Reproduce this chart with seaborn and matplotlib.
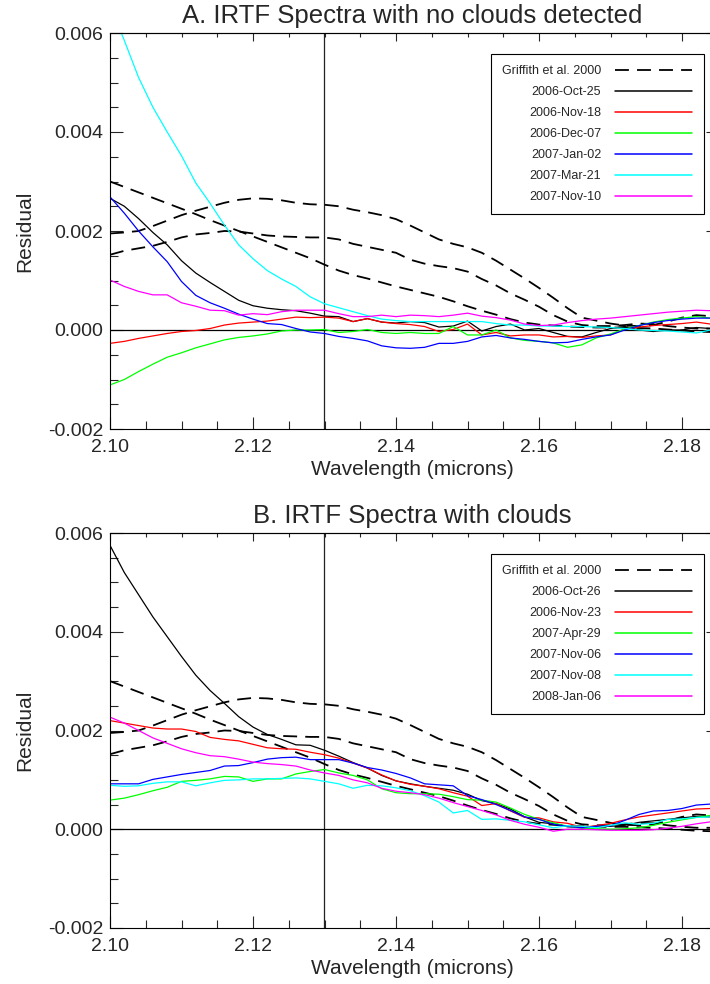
import matplotlib
matplotlib.use('Agg')
import matplotlib.pyplot as plt
from matplotlib.ticker import MultipleLocator, FormatStrFormatter
import seaborn as sns
import numpy as np

# wavelength grid (microns) at which the curves were read
wavelength = [2.100, 2.102, 2.104, 2.106, 2.108, 2.110, 2.112, 2.114, 2.116, 2.118,
              2.120, 2.122, 2.124, 2.126, 2.128, 2.130, 2.132, 2.134, 2.136, 2.138,
              2.140, 2.142, 2.144, 2.146, 2.148, 2.150, 2.152, 2.154, 2.156, 2.158,
              2.160, 2.162, 2.164, 2.166, 2.168, 2.170, 2.172, 2.174, 2.176, 2.178,
              2.180, 2.182, 2.184]

# residuals in units of 1e-3
griffith_1 = [3.0, 2.89, 2.78, 2.67, 2.56, 2.45, 2.34, 2.22, 2.11, 2.0,
              1.89, 1.78, 1.67, 1.56, 1.45, 1.32, 1.2, 1.11, 1.04, 0.96,
              0.88, 0.81, 0.74, 0.67, 0.58, 0.48, 0.39, 0.31, 0.22, 0.15,
              0.11, 0.09, 0.07, 0.06, 0.05, 0.05, 0.05, 0.04, 0.03, 0.01,
              -0.01, -0.03, -0.04]
griffith_2 = [1.95, 1.97, 2.0, 2.1, 2.21, 2.32, 2.41, 2.49, 2.57, 2.63,
              2.66, 2.65, 2.62, 2.57, 2.54, 2.53, 2.5, 2.43, 2.38, 2.32,
              2.24, 2.11, 1.97, 1.83, 1.74, 1.67, 1.56, 1.4, 1.22, 1.04,
              0.85, 0.65, 0.44, 0.25, 0.19, 0.13, 0.09, 0.08, 0.1, 0.17,
              0.25, 0.3, 0.28]
griffith_3 = [1.52, 1.6, 1.65, 1.7, 1.78, 1.87, 1.93, 1.96, 2.0, 1.99,
              1.95, 1.91, 1.89, 1.88, 1.87, 1.87, 1.83, 1.74, 1.68, 1.62,
              1.56, 1.42, 1.34, 1.29, 1.25, 1.18, 1.03, 0.9, 0.74, 0.61,
              0.47, 0.3, 0.17, 0.1, 0.08, 0.08, 0.1, 0.13, 0.12, 0.08,
              0.05, 0.03, 0.03]

# panel A: no clouds detected
labels_a = ['2006-Oct-25', '2006-Nov-18', '2006-Dec-07', '2007-Jan-02', '2007-Mar-21', '2007-Nov-10']
oct25 = [2.66, 2.5, 2.25, 1.97, 1.72, 1.4, 1.15, 0.96, 0.78, 0.6,
         0.49, 0.44, 0.41, 0.39, 0.34, 0.28, 0.27, 0.17, 0.23, 0.16,
         0.14, 0.17, 0.15, 0.06, 0.08, 0.18, -0.02, 0.07, 0.12, 0.0,
         0.03, -0.05, -0.13, -0.14, -0.05, 0.03, 0.07, 0.0, -0.03, 0.0,
         0.0, 0.05, 0.03]
nov18 = [-0.27, -0.23, -0.17, -0.12, -0.07, -0.03, -0.01, 0.03, 0.1, 0.14,
         0.16, 0.18, 0.22, 0.26, 0.25, 0.26, 0.24, 0.17, 0.23, 0.16,
         0.13, 0.11, 0.07, -0.03, 0.01, 0.12, -0.1, -0.05, -0.12, -0.1,
         -0.1, -0.14, -0.13, -0.15, -0.12, -0.1, 0.02, 0.06, 0.09, 0.11,
         0.13, 0.16, 0.12]
dec07 = [-1.11, -1.0, -0.84, -0.69, -0.55, -0.46, -0.36, -0.28, -0.2, -0.15,
         -0.12, -0.08, -0.02, 0.0, 0.0, 0.01, -0.05, -0.03, 0.01, -0.05,
         -0.07, -0.05, -0.07, -0.07, 0.07, -0.1, -0.1, 0.0, -0.16, -0.21,
         -0.23, -0.26, -0.35, -0.3, -0.16, -0.08, 0.02, 0.09, 0.16, 0.21,
         0.24, 0.27, 0.24]
jan02 = [2.69, 2.36, 2.0, 1.68, 1.38, 0.98, 0.7, 0.55, 0.44, 0.32,
         0.22, 0.13, 0.11, 0.03, -0.04, -0.07, -0.13, -0.17, -0.22, -0.32,
         -0.36, -0.37, -0.35, -0.27, -0.27, -0.23, -0.14, -0.11, -0.16, -0.19,
         -0.23, -0.26, -0.25, -0.19, -0.14, -0.1, 0.0, 0.09, 0.15, 0.19,
         0.22, 0.24, 0.24]
mar21 = [6.55, 5.85, 5.1, 4.5, 4.0, 3.52, 2.97, 2.56, 2.12, 1.72,
         1.44, 1.2, 1.03, 0.88, 0.67, 0.53, 0.45, 0.37, 0.29, 0.22,
         0.19, 0.17, 0.17, 0.17, 0.17, 0.17, 0.17, 0.13, 0.1, 0.1,
         0.08, 0.08, 0.07, 0.07, 0.06, 0.05, 0.03, 0.0, -0.01, -0.02,
         -0.04, -0.06, 0.0]
nov10 = [1.01, 0.88, 0.78, 0.71, 0.71, 0.55, 0.48, 0.4, 0.39, 0.3,
         0.33, 0.31, 0.37, 0.4, 0.4, 0.4, 0.33, 0.27, 0.27, 0.3,
         0.27, 0.3, 0.29, 0.27, 0.3, 0.34, 0.28, 0.25, 0.2, 0.12,
         0.09, 0.1, 0.15, 0.19, 0.22, 0.24, 0.27, 0.3, 0.33, 0.36,
         0.38, 0.4, 0.39]

# panel B: clouds
labels_b = ['2006-Oct-26', '2006-Nov-23', '2007-Apr-29', '2007-Nov-06', '2007-Nov-08', '2008-Jan-06']
oct26 = [5.75, 5.2, 4.75, 4.3, 3.9, 3.5, 3.12, 2.81, 2.55, 2.28,
         2.07, 1.92, 1.82, 1.71, 1.7, 1.6, 1.48, 1.35, 1.24, 1.09,
         0.98, 0.92, 0.87, 0.83, 0.79, 0.71, 0.58, 0.52, 0.41, 0.25,
         0.14, 0.11, 0.05, 0.04, 0.06, 0.06, 0.08, 0.14, 0.17, 0.2,
         0.23, 0.26, 0.25]
nov23 = [2.2, 2.15, 2.1, 2.05, 2.03, 2.03, 1.98, 1.86, 1.82, 1.79,
         1.72, 1.65, 1.63, 1.62, 1.56, 1.51, 1.44, 1.34, 1.24, 1.1,
         0.98, 0.91, 0.87, 0.82, 0.74, 0.67, 0.48, 0.52, 0.37, 0.24,
         0.23, 0.15, 0.12, 0.04, 0.07, 0.12, 0.19, 0.25, 0.29, 0.33,
         0.37, 0.41, 0.42]
apr29 = [0.59, 0.63, 0.7, 0.78, 0.85, 0.97, 0.99, 1.02, 1.07, 1.06,
         0.97, 1.02, 1.02, 1.12, 1.17, 1.21, 1.14, 1.09, 1.0, 0.82,
         0.74, 0.72, 0.72, 0.71, 0.66, 0.6, 0.59, 0.55, 0.43, 0.3,
         0.2, 0.13, 0.06, 0.02, 0.01, 0.0, 0.01, 0.03, 0.08, 0.14,
         0.19, 0.24, 0.28]
nov06 = [0.92, 0.92, 0.92, 1.01, 1.06, 1.11, 1.15, 1.19, 1.28, 1.29,
         1.35, 1.42, 1.45, 1.46, 1.41, 1.41, 1.41, 1.34, 1.25, 1.2,
         1.13, 1.04, 0.92, 0.9, 0.88, 0.68, 0.6, 0.5, 0.38, 0.25,
         0.2, 0.1, 0.06, 0.03, 0.06, 0.07, 0.18, 0.3, 0.37, 0.38,
         0.42, 0.49, 0.51]
nov08 = [0.89, 0.87, 0.88, 0.93, 0.96, 0.96, 0.88, 0.94, 0.99, 1.0,
         1.02, 1.02, 1.03, 1.04, 1.02, 0.97, 0.92, 0.83, 0.89, 0.88,
         0.84, 0.78, 0.68, 0.55, 0.33, 0.38, 0.2, 0.21, 0.18, 0.15,
         0.09, 0.03, 0.07, 0.06, 0.03, 0.08, 0.13, 0.1, 0.12, 0.2,
         0.21, 0.24, 0.25]
jan06 = [2.27, 2.15, 2.0, 1.85, 1.74, 1.63, 1.55, 1.49, 1.47, 1.42,
         1.36, 1.33, 1.31, 1.28, 1.2, 1.14, 1.09, 1.0, 0.94, 0.83,
         0.77, 0.74, 0.7, 0.63, 0.54, 0.46, 0.38, 0.29, 0.18, 0.1,
         0.04, -0.04, 0.0, 0.0, -0.01, -0.02, -0.02, -0.02, -0.01, 0.02,
         0.06, 0.11, 0.15]

colors = ['black', '#ff0000', '#00ff00', '#0000ff', '#00ffff', '#ff00ff']


def plot_panel(ax, title, series, labels):
    x = np.array(wavelength)
    for i, g in enumerate([griffith_1, griffith_2, griffith_3]):
        sns.lineplot(x=x, y=np.array(g) * 1e-3, ax=ax, color='black', lw=1.3,
                     linestyle=(0, (7.7, 4.5)),
                     label='Griffith et al. 2000' if i == 0 else None)
    for s, lab, c in zip(series, labels, colors):
        sns.lineplot(x=x, y=np.array(s) * 1e-3, ax=ax, color=c, lw=0.9, label=lab)

    ax.axvline(2.13, color='#222222', lw=0.9, zorder=1)
    ax.axhline(0.0, color='black', lw=0.9, zorder=1)

    ax.set_xlim(2.10, 2.10 + 604 / 7150)
    ax.set_ylim(-0.002, 0.006)
    ax.xaxis.set_major_locator(MultipleLocator(0.02))
    ax.xaxis.set_minor_locator(MultipleLocator(0.005))
    ax.yaxis.set_major_locator(MultipleLocator(0.002))
    ax.yaxis.set_minor_locator(MultipleLocator(0.0005))
    ax.xaxis.set_major_formatter(FormatStrFormatter('%.2f'))
    ax.yaxis.set_major_formatter(FormatStrFormatter('%.3f'))
    ax.tick_params(axis='both', which='major', direction='in', length=9, width=0.8,
                   labelsize=14, top=False, right=False)
    ax.tick_params(axis='both', which='minor', direction='in', length=5.5, width=0.8,
                   top=False, right=False)
    ax.tick_params(axis='x', which='major', pad=7)
    ax.tick_params(axis='y', which='major', pad=5)

    # shorter ticks on the top and right sides
    top = ax.secondary_xaxis('top')
    top.xaxis.set_major_locator(MultipleLocator(0.02))
    top.xaxis.set_minor_locator(MultipleLocator(0.005))
    top.tick_params(which='major', direction='in', length=5.5, width=0.8, labeltop=False)
    top.tick_params(which='minor', direction='in', length=3, width=0.8)
    right = ax.secondary_yaxis('right')
    right.yaxis.set_major_locator(MultipleLocator(0.002))
    right.yaxis.set_minor_locator(MultipleLocator(0.0005))
    right.tick_params(which='major', direction='in', length=5.5, width=0.8, labelright=False)
    right.tick_params(which='minor', direction='in', length=3, width=0.8)

    for sp in ax.spines.values():
        sp.set_linewidth(0.8)
        sp.set_color('black')

    ax.set_title(title, fontsize=18.5, pad=7)
    ax.set_xlabel('Wavelength (microns)', fontsize=15, labelpad=3)
    ax.set_ylabel('Residual', fontsize=15, labelpad=10)

    leg = ax.legend(loc='upper right', bbox_to_anchor=(0.983, 0.947), borderaxespad=0,
                    markerfirst=False, fontsize=9, handlelength=6.2, handletextpad=1.1,
                    labelspacing=0.72, borderpad=0.9, frameon=True, fancybox=False,
                    framealpha=1)
    leg.get_frame().set_edgecolor('black')
    leg.get_frame().set_linewidth(0.8)
    for h in leg.legend_handles[1:]:
        h.set_linewidth(1.1)


if __name__ == '__main__':
    sns.set_style('ticks')
    plt.rcParams['font.family'] = ['Liberation Sans', 'DejaVu Sans']
    plt.rcParams['axes.linewidth'] = 0.8

    fig = plt.figure(figsize=(7.1, 9.84), dpi=100)
    ax_a = fig.add_axes([110 / 710, 1 - 429 / 984, 604 / 710, 396 / 984])
    ax_b = fig.add_axes([110 / 710, 1 - 928 / 984, 604 / 710, 395 / 984])

    plot_panel(ax_a, 'A. IRTF Spectra with no clouds detected',
               [oct25, nov18, dec07, jan02, mar21, nov10], labels_a)
    plot_panel(ax_b, 'B. IRTF Spectra with clouds',
               [oct26, nov23, apr29, nov06, nov08, jan06], labels_b)

    fig.savefig('out.png', dpi=100)
